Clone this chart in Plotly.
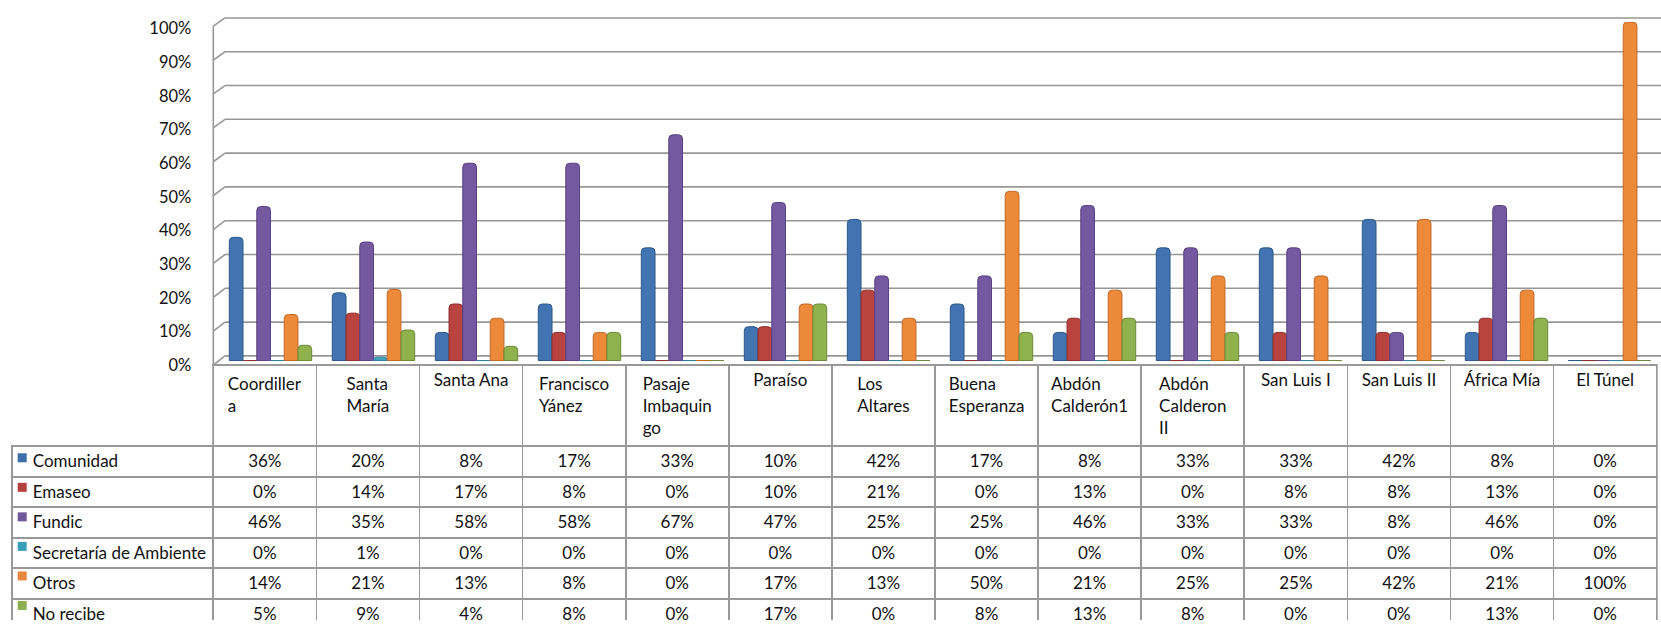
import math
import plotly.graph_objects as go

# ---------------- data ----------------
categories = ["Coordiller<br>a", "Santa<br>María", "Santa Ana", "Francisco<br>Yánez",
              "Pasaje<br>Imbaquin<br>go", "Paraíso", "Los<br>Altares", "Buena<br>Esperanza",
              "Abdón<br>Calderón1", "Abdón<br>Calderon<br>II", "San Luis I", "San Luis II",
              "África Mía", "El Túnel"]

series_names = ["Comunidad", "Emaseo", "Fundic", "Secretaría de Ambiente", "Otros", "No recibe"]

comunidad = [36.4, 20, 8.3, 16.7, 33.3, 10, 41.7, 16.7, 8.3, 33.3, 33.3, 41.7, 8.3, 0]
emaseo = [0, 14, 16.7, 8.3, 0, 10, 20.8, 0, 12.5, 0, 8.3, 8.3, 12.5, 0]
fundic = [45.5, 35, 58.3, 58.3, 66.7, 46.7, 25, 25, 45.8, 33.3, 33.3, 8.3, 45.8, 0]
secretaria = [0, 1, 0, 0, 0, 0, 0, 0, 0, 0, 0, 0, 0, 0]
otros = [13.6, 21, 12.5, 8.3, 0, 16.7, 12.5, 50, 20.8, 25, 25, 41.7, 20.8, 100]
no_recibe = [4.5, 9, 4.2, 8.3, 0, 16.7, 0, 8.3, 12.5, 8.3, 0, 0, 12.5, 0]

tick_values = [0, 10, 20, 30, 40, 50, 60, 70, 80, 90, 100]
tick_labels = [f"{v}%" for v in tick_values]

# ---------------- styles ----------------
W, H = 1661, 631
FONT = "Lato"
fills = ["#4174b0", "#b8433f", "#7458a0", "#42a3bf", "#ed8a3a", "#8fb24e"]
edges = ["#2c5888", "#8f2f2c", "#5a4282", "#2f8099", "#c0692a", "#6c8a37"]
keys = ["#3d6ea9", "#b5413e", "#70589a", "#3aa0b8", "#e8883e", "#8cb050"]
GRID = "#979797"
TBL = "#999999"
CLEAR = "rgba(0,0,0,0)"
TXT = "#111111"


def py(p):
    return 1 - p / H


def px(p):
    return p / W


all_series = [comunidad, emaseo, fundic, secretaria, otros, no_recibe]

fig = go.Figure()

# bars (0 -> 362px, 100 -> 12.5px)
y0_px, y100_px = 362.0, 12.5
unit = (y0_px - y100_px) / 100.0
ylow = -1.2
for name, vals, f, e in zip(series_names, all_series, fills, edges):
    fig.add_trace(go.Bar(
        x=categories, y=vals, name=name,
        marker=dict(color=f, line=dict(color=e, width=1), cornerradius=4),
        xaxis="x", yaxis="y", hoverinfo="skip", showlegend=False,
    ))

# invisible trace so the front tick-label axis is drawn
fig.add_trace(go.Scatter(x=[0.5], y=[50], xaxis="x2", yaxis="y2", mode="markers",
                         marker=dict(opacity=0), showlegend=False, hoverinfo="skip"))

# ---------------- table ----------------
def pct(v):
    return f"{math.floor(v + 0.5)}%"

tbl_left, tbl_first, tbl_right, tbl_top = 11.7, 213.3, 1657.0, 366.7
head_h, row_h = 81.0, 30.5
colw = (tbl_right - tbl_first) / len(categories)

# non-breaking spaces: room for the legend key, and no automatic wrapping
NB = "\u00a0"
legend_col = [NB * 3 + n.replace(" ", NB) for n in series_names]
cell_cols = [legend_col] + [[pct(s[i]) for s in all_series] for i in range(len(categories))]

fig.add_trace(go.Table(
    domain=dict(x=[px(tbl_left), px(tbl_right)], y=[0, py(tbl_top)]),
    columnwidth=[tbl_first - tbl_left] + [colw] * len(categories),
    header=dict(
        values=[""] + categories,
        height=head_h,
        align="center",
        font=dict(family=FONT, size=17, color=TXT),
        fill=dict(color=[CLEAR] + ["white"] * len(categories)),
        line=dict(color=[CLEAR] + [TBL] * len(categories), width=1.7),
    ),
    cells=dict(
        values=cell_cols,
        height=row_h,
        align=["left"] + ["center"] * len(categories),
        font=dict(family=FONT, size=17, color=TXT),
        fill=dict(color=[CLEAR] + ["white"] * len(categories)),
        line=dict(color=TBL, width=1.7),
    ),
))

# legend keys inside the first table column (pixel-unit overlay axes)
key_y = [tbl_top + head_h + row_h * (k + 0.5) - 0.5 for k in range(len(series_names))]
fig.add_trace(go.Scatter(
    x=[tbl_left + 10.5] * len(series_names), y=key_y, mode="markers",
    marker=dict(symbol="square", size=9, color=keys, line=dict(width=0)),
    xaxis="x3", yaxis="y3", showlegend=False, hoverinfo="skip",
))

# ---------------- 3D-style walls / gridlines ----------------
shapes = []
front_x, back_x = 213.3, 225.0
for v in tick_values:
    yb = 357.2 - v * 3.49
    yf = 366.7 - v * 3.5
    shapes.append(dict(type="line", xref="paper", yref="paper",
                       x0=px(front_x), y0=py(yf), x1=px(back_x), y1=py(yb),
                       line=dict(color=GRID, width=1.6), layer="below"))
    shapes.append(dict(type="line", xref="paper", yref="paper",
                       x0=px(back_x), y0=py(yb), x1=1.0, y1=py(yb),
                       line=dict(color=GRID, width=1.6), layer="below"))
shapes.append(dict(type="line", xref="paper", yref="paper",
                   x0=px(front_x), y0=py(366.7 - 100 * 3.5), x1=px(front_x), y1=py(366.7),
                   line=dict(color=GRID, width=1.6), layer="below"))

fig.update_layout(
    width=W, height=H,
    margin=dict(l=0, r=0, t=0, b=0),
    paper_bgcolor="white", plot_bgcolor=CLEAR,
    barmode="group", bargap=0.2, bargroupgap=0,
    showlegend=False,
    font=dict(family=FONT, size=16, color=TXT),
    shapes=shapes,
    xaxis=dict(domain=[px(219), 1.0], visible=False, anchor="y"),
    yaxis=dict(domain=[py(y0_px - ylow * unit), py(y100_px)], range=[ylow, 100],
               visible=False, anchor="x"),
    xaxis2=dict(domain=[px(front_x), 1.0], visible=False, anchor="y2", range=[0, 1]),
    yaxis2=dict(domain=[py(367.0), py(19.0)], range=[0, 100], anchor="x2", type="linear",
                tickmode="array", tickvals=tick_values, ticktext=tick_labels,
                showgrid=False, zeroline=False,
                showline=False, ticks="", ticklabelstandoff=21,
                tickfont=dict(family=FONT, size=16.5, color=TXT)),
    xaxis3=dict(domain=[0, 1], range=[0, W], visible=False, anchor="y3"),
    yaxis3=dict(domain=[0, 1], range=[H, 0], visible=False, anchor="x3"),
)

fig.write_html("out.html", config={"displayModeBar": False},
               post_script="document.body.style.margin='0';")
